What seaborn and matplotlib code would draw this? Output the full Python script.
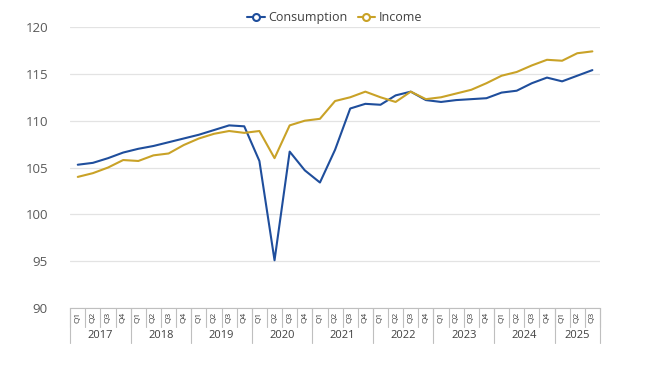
import numpy as np
import pandas as pd
import matplotlib
matplotlib.use("Agg")
import matplotlib.pyplot as plt
import seaborn as sns
from matplotlib.lines import Line2D

years = ["2017", "2018", "2019", "2020", "2021", "2022", "2023", "2024", "2025"]
quarters_per_year = [4, 4, 4, 4, 4, 4, 4, 4, 3]
quarter_names = ["Q1", "Q2", "Q3", "Q4"]

consumption = [105.3, 105.5, 106.0, 106.6, 107.0, 107.3, 107.7, 108.1,
               108.5, 109.0, 109.5, 109.4, 105.7, 95.1, 106.7, 104.7,
               103.4, 106.9, 111.3, 111.8, 111.7, 112.7, 113.1, 112.2,
               112.0, 112.2, 112.3, 112.4, 113.0, 113.2, 114.0, 114.6,
               114.2, 114.8, 115.4]
income = [104.0, 104.4, 105.0, 105.8, 105.7, 106.3, 106.5, 107.4,
          108.1, 108.6, 108.9, 108.7, 108.9, 106.0, 109.5, 110.0,
          110.2, 112.1, 112.5, 113.1, 112.5, 112.0, 113.1, 112.3,
          112.5, 112.9, 113.3, 114.0, 114.8, 115.2, 115.9, 116.5,
          116.4, 117.2, 117.4]

colors = {"Consumption": "#1f4e9c", "Income": "#c9a227"}

quarter_labels = []
for y, n in zip(years, quarters_per_year):
    quarter_labels += quarter_names[:n]
idx = np.arange(len(quarter_labels))

df = pd.DataFrame({
    "idx": np.concatenate([idx, idx]),
    "value": consumption + income,
    "series": ["Consumption"] * len(idx) + ["Income"] * len(idx),
})

sns.set_style("white")
plt.rcParams["font.family"] = ["Open Sans", "DejaVu Sans"]

fig = plt.figure(figsize=(6.5, 3.65), dpi=100)
ax = fig.add_axes([0.108, 0.156, 0.815, 0.77])

sns.lineplot(data=df, x="idx", y="value", hue="series", palette=colors,
             linewidth=1.5, ax=ax, legend=False)

ax.set_xlim(-0.5, len(idx) - 0.5)
ax.set_ylim(90, 120)
ax.set_yticks(range(90, 121, 5))
ax.yaxis.grid(True, color="#e3e3e3", linewidth=0.9)
ax.set_axisbelow(True)
for s in ["top", "right", "left"]:
    ax.spines[s].set_visible(False)
ax.spines["bottom"].set_color("#bfbfbf")
ax.tick_params(axis="y", length=0, labelsize=9.5, labelcolor="#595959", pad=16)
ax.set_xlabel("")
ax.set_ylabel("")

# quarter labels
ax.set_xticks(idx)
ax.set_xticklabels(quarter_labels, rotation=90, fontsize=6, color="#404040")
ax.tick_params(axis="x", length=0, pad=3)

tr = ax.get_xaxis_transform()
# separators between quarters
for i in range(len(idx) + 1):
    ax.plot([i - 0.5, i - 0.5], [0, -0.068], transform=tr, color="#bfbfbf",
            linewidth=0.8, clip_on=False)
# year labels and separators
start = 0
for y, n in zip(years, quarters_per_year):
    ax.plot([start - 0.5, start - 0.5], [0, -0.125], transform=tr,
            color="#bfbfbf", linewidth=0.8, clip_on=False)
    ax.text(start + (n - 1) / 2, -0.098, y, transform=tr, ha="center",
            va="center", fontsize=8, color="#404040")
    start += n
ax.plot([start - 0.5, start - 0.5], [0, -0.125], transform=tr,
        color="#bfbfbf", linewidth=0.8, clip_on=False)

handles = [Line2D([0], [0], color=colors[k], marker="o", markersize=5,
                  markerfacecolor="white", markeredgewidth=1.5, linewidth=1.5)
           for k in ["Consumption", "Income"]]
fig.legend(handles, ["Consumption", "Income"], loc="upper center",
           bbox_to_anchor=(0.515, 1.0), ncol=2, frameon=False, fontsize=9,
           handlelength=1.4, handletextpad=0.3, columnspacing=0.8,
           labelcolor="#404040")

fig.savefig("out.png", dpi=100)
